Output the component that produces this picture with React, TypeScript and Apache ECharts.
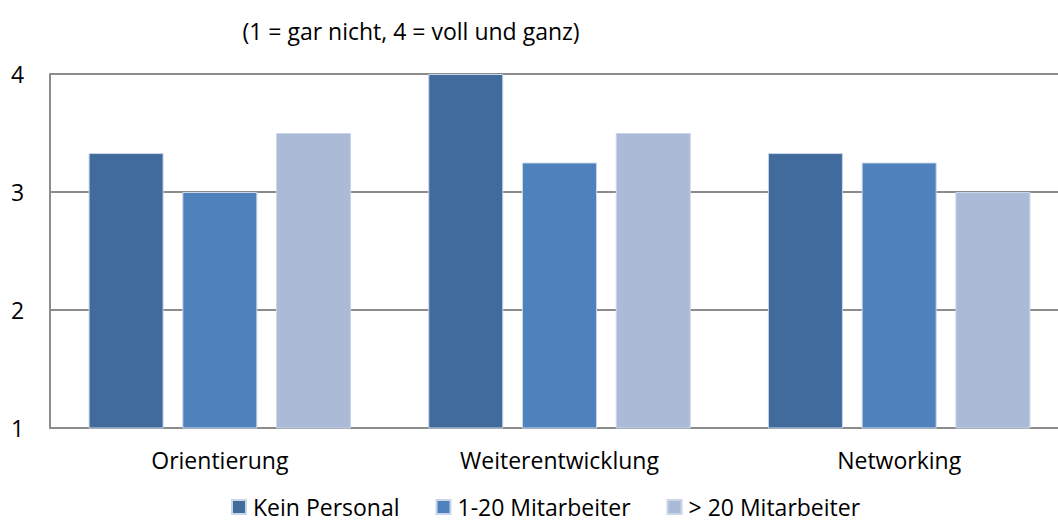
import React, { useEffect, useRef } from "react";
import * as echarts from "echarts";

const categories = ["Orientierung", "Weiterentwicklung", "Networking"];
const seriesNames = ["Kein Personal", "1-20 Mitarbeiter", "> 20 Mitarbeiter"];
const keinPersonal = [3.33, 4, 3.33];
const mitarbeiter1bis20 = [3.0, 3.25, 3.25];
const mitarbeiterUeber20 = [3.5, 3.5, 3.0];
const yTicks = [1, 2, 3, 4];
const colors = ["#416B9C", "#4F81BD", "#AABAD7"];
const titleText = "(1 = gar nicht, 4 = voll und ganz)";

export default function App() {
  const ref = useRef<HTMLDivElement>(null);
  useEffect(() => {
    if (!ref.current) return;
    const chart = echarts.init(ref.current, null, { renderer: "svg" });
    const font = "'Open Sans', sans-serif";
    const values = [keinPersonal, mitarbeiter1bis20, mitarbeiterUeber20];
    chart.setOption({
      animation: false,
      title: {
        text: titleText,
        left: 406,
        top: 14,
        textAlign: "center",
        textStyle: { fontFamily: font, fontSize: 23, fontWeight: "normal", color: "#000" },
      },
      legend: {
        data: seriesNames,
        top: 495,
        left: 231,
        padding: 0,
        itemWidth: 14,
        itemHeight: 14,
        itemGap: 36,
        icon: "rect",
        textStyle: { fontFamily: font, fontSize: 23, lineHeight: 24, color: "#000", padding: [0, 0, 0, 2] },
      },
      grid: { left: 50, top: 74, width: 1019, height: 354, containLabel: false },
      xAxis: {
        type: "category",
        data: categories,
        axisLine: { show: true, lineStyle: { color: "#8C8C8C", width: 2 } },
        axisTick: { show: false },
        axisLabel: { fontFamily: font, fontSize: 23, color: "#000", margin: 20 },
      },
      yAxis: {
        type: "value",
        min: yTicks[0],
        max: yTicks[yTicks.length - 1],
        interval: 1,
        axisLine: { show: true, lineStyle: { color: "#8C8C8C", width: 2 } },
        axisTick: { show: false },
        splitLine: { show: true, lineStyle: { color: "#8C8C8C", width: 2 } },
        axisLabel: { fontFamily: font, fontSize: 23, color: "#000", margin: 39, align: "left" },
      },
      series: seriesNames.map((name, i) => ({
        name,
        type: "bar",
        data: values[i],
        barWidth: 75,
        barGap: "25%",
        itemStyle: { color: colors[i], borderColor: "#C9D6EA", borderWidth: 1 },
      })),
    });
    return () => chart.dispose();
  }, []);
  return (
    <div style={{ position: "absolute", left: 0, top: 0, width: 1058, height: 526, overflow: "hidden" }}>
      <div ref={ref} style={{ width: 1080, height: 526 }} />
    </div>
  );
}
